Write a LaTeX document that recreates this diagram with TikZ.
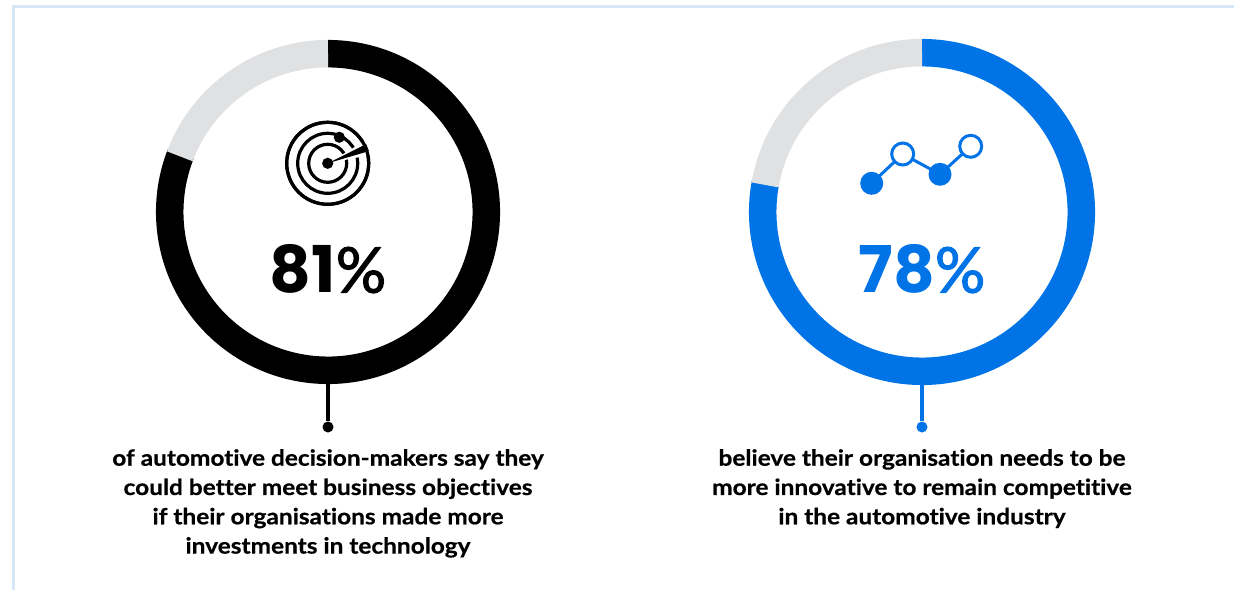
\documentclass[tikz,border=0pt]{standalone}
\usepackage{fontspec}
\setmainfont{Lato}[Ligatures=NoCommon,BoldFeatures={FakeStretch=1.1,FakeBold=0.6}]
\newfontfamily\pctfont{Poppins}
\newfontfamily\signfont{Lato}[FakeBold=1.8]
\definecolor{ringgrey}{HTML}{E0E1E3}
\definecolor{brandblue}{HTML}{0073E6}
\definecolor{frameblue}{HTML}{D8E7F6}
\newcommand{\pctsign}{{\signfont\mdseries\fontsize{63}{63}\selectfont\%}}
\tikzset{
  stem/.style={line width=3.2pt},
  enddot/.style={circle,fill,inner sep=0pt,minimum size=11pt},
  pct/.style={font=\pctfont\fontsize{64.5}{64.5}\selectfont\bfseries,inner sep=0pt},
  caption/.style={font=\fontsize{22.2}{29.3}\selectfont\bfseries,align=center,inner sep=0pt,text=black},
  solidpt/.style={circle,fill=brandblue,inner sep=0pt,minimum size=23pt},
  openpt/.style={circle,draw=brandblue,fill=white,line width=3pt,inner sep=0pt,minimum size=22pt},
}
\begin{document}
\begin{tikzpicture}[x=1pt,y=1pt]
\useasboundingbox (0,0) rectangle (1234,590);
% frame
\draw[frameblue,line width=3pt] (13,0) -- (13,583) -- (1234,583);
% ring 1
\draw[black,line width=27.5pt] (328,378) ++(90:158.3) arc[start angle=90,end angle=-201.6,radius=158.3];
\draw[ringgrey,line width=27.5pt] (328,378) ++(90:158.3) arc[start angle=90,end angle=159.4,radius=158.3];
% ring 2
\draw[brandblue,line width=27.5pt] (922,378) ++(90:159.3) arc[start angle=90,end angle=-190.8,radius=159.3];
\draw[ringgrey,line width=27.5pt] (922,378) ++(90:159.3) arc[start angle=90,end angle=170.2,radius=159.3];
% stems
\coordinate (ringbottomA) at (328,208);
\coordinate (ringbottomB) at (922,208);
\node[enddot,black] (dotA) at (328,163) {};
\node[enddot,brandblue] (dotB) at (922,163) {};
\draw[stem,black] (ringbottomA) -- (dotA);
\draw[stem,brandblue] (ringbottomB) -- (dotB);
% radar icon
\begin{scope}[shift={(327.7,426.7)}]
\draw[line width=3.2pt] (0,0) circle[radius=41];
\draw[line width=3.2pt] (0,0) circle[radius=30];
\draw[line width=3.2pt] (0,0) circle[radius=19];
\fill[white] (0,0) -- (31:50) -- (11:50) -- cycle;
\draw[line width=3.2pt] (0,0) circle[radius=41];
\fill[black] (0,0) -- (26.5:43) -- (16.5:43) -- cycle;
\fill[black] (0,0) circle[radius=5.6];
\fill[black] (66:28.5) circle[radius=5.6];
\end{scope}
% chart icon
\draw[brandblue,line width=3pt] (871.7,406.7) -- (902.7,436) -- (940,415.7) -- (970.7,443.7);
\node[solidpt] (ptA) at (871.7,406.7) {};
\node[openpt] (ptB) at (902.7,436) {};
\node[solidpt] (ptC) at (940,415.7) {};
\node[openpt] (ptD) at (970.7,443.7) {};
% numbers
\node[pct,black] (pctA) at (328,321) {81\pctsign};
\node[pct,brandblue] (pctB) at (922,321) {78\pctsign};
% captions
\node[caption,anchor=north] (capA) at (328,141) {of automotive decision-makers say they\\could better meet business objectives\\if their organisations made more\\investments in technology};
\node[caption,anchor=north] (capB) at (922,141) {believe their organisation needs to be\\more innovative to remain competitive\\in the automotive industry};
\end{tikzpicture}
\end{document}
